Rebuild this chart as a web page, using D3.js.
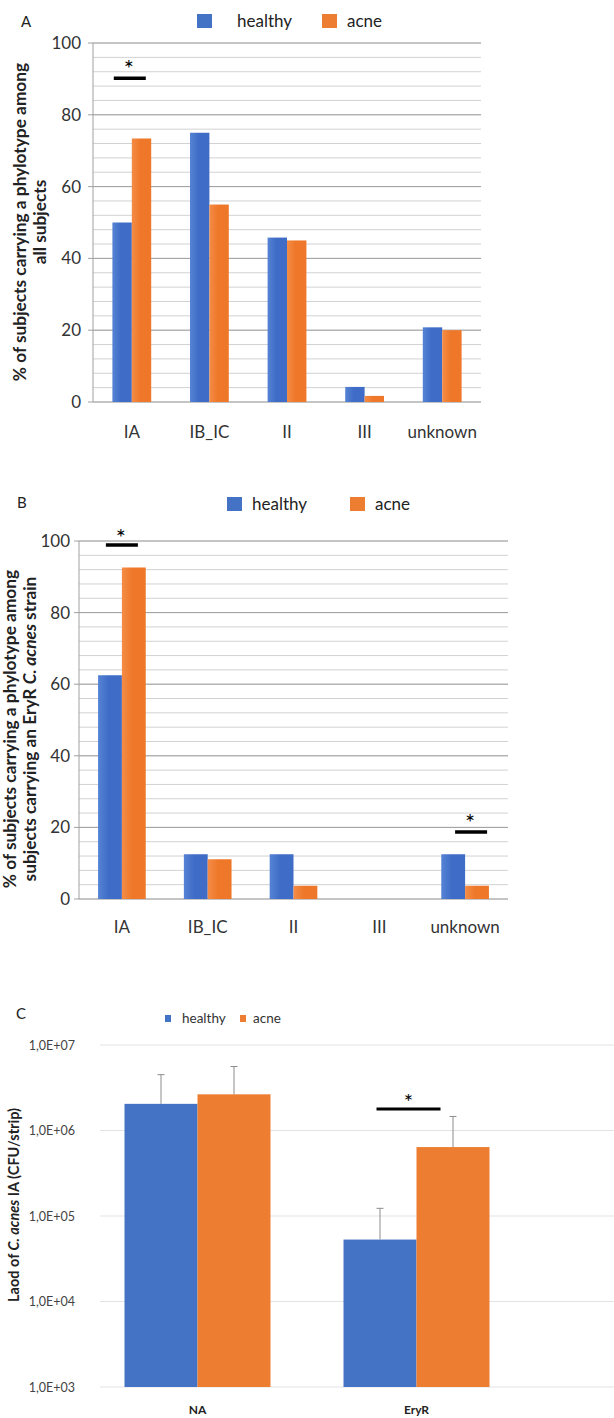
<!DOCTYPE html>
<html>
<head>
<meta charset="utf-8">
<script src="https://cdn.jsdelivr.net/npm/d3@7"></script>
<style>
  html, body { margin: 0; padding: 0; background: #fff; }
  svg { display: block; }
  text { font-family: Lato, "Open Sans", sans-serif; }
</style>
</head>
<body>
<svg id="chart" width="614" height="1418"></svg>
<script>
// ---------- data ----------
const categoriesAB = ["IA", "IB_IC", "II", "III", "unknown"];
const seriesNames = ["healthy", "acne"];
const healthyA = [50, 75, 45.8, 4.2, 20.8];
const acneA = [73.4, 55, 45, 1.7, 20];
const healthyB = [62.5, 12.5, 12.5, 0, 12.5];
const acneB = [92.6, 11.1, 3.7, 0, 3.7];
const yTicksAB = [0, 20, 40, 60, 80, 100];

const categoriesC = ["NA", "EryR"];
const healthyC = [2.05e6, 5.3e4];
const acneC = [2.65e6, 6.4e5];
const healthyCErrTop = [4.5e6, 1.23e5];
const acneCErrTop = [5.6e6, 1.46e6];
const yTicksC = [1e3, 1e4, 1e5, 1e6, 1e7];
const yTickLabelsC = ["1,0E+03", "1,0E+04", "1,0E+05", "1,0E+06", "1,0E+07"];

// significance markers (category, value level)
const sigA = [{ cat: "IA", v: 90.2 }];
const sigB = [{ cat: "IA", v: 98.9 }, { cat: "unknown", v: 18.7 }];
const sigC = [{ cat: "EryR", v: 1.79e6 }];

const colors = { healthy: "#4472C4", acne: "#ED7D31" };

const svg = d3.select("#chart");
svg.append("rect").attr("width", 614).attr("height", 1418).attr("fill", "#fff");

// gradients
const defs = svg.append("defs");
[["healthy", "#5683d4", "#3e6cc6"], ["acne", "#f48c46", "#ee7729"]].forEach(([n, c1, c2]) => {
  const gr = defs.append("linearGradient").attr("id", "grad-" + n).attr("x1", "0").attr("x2", "1").attr("y1", "0").attr("y2", "0");
  gr.append("stop").attr("offset", "0").attr("stop-color", c1);
  gr.append("stop").attr("offset", "0.45").attr("stop-color", c2);
  gr.append("stop").attr("offset", "1").attr("stop-color", c2);
});

// ---------- helper for panels A and B ----------
function panelAB(opt) {
  const g = svg.append("g");
  const x = d3.scaleBand().domain(categoriesAB).range([opt.x0, opt.x1]).paddingInner(0).paddingOuter(0);
  const y = d3.scaleLinear().domain([0, 100]).range([opt.y0, opt.y1]);
  const sub = d3.scaleBand().domain(seriesNames).range([0, x.bandwidth()]).paddingInner(0).paddingOuter(opt.outerPad);

  // minor gridlines
  const minor = d3.range(0, 101, 4);
  g.selectAll(".minor").data(minor).enter().append("line")
    .attr("x1", opt.x0).attr("x2", opt.x1)
    .attr("y1", d => y(d)).attr("y2", d => y(d))
    .attr("stroke", "#d2d2d2").attr("stroke-width", 1);
  // major gridlines
  g.selectAll(".major").data(yTicksAB).enter().append("line")
    .attr("x1", opt.x0 - 5).attr("x2", opt.x1)
    .attr("y1", d => y(d)).attr("y2", d => y(d))
    .attr("stroke", "#a0a0a0").attr("stroke-width", 1);
  // vertical axis line
  g.append("line").attr("x1", opt.x0).attr("x2", opt.x0)
    .attr("y1", y(0)).attr("y2", y(100)).attr("stroke", "#a0a0a0");

  // tick labels via axis
  const axis = d3.axisLeft(y).tickValues(yTicksAB).tickSize(0).tickPadding(opt.x0 - opt.labelRight);
  const ag = g.append("g").attr("transform", `translate(${opt.x0},0)`).call(axis);
  ag.select(".domain").remove();
  ag.selectAll("text").attr("font-size", 17).attr("fill", "#333").attr("font-family", "Lato, sans-serif");

  // bars
  const data = categoriesAB.map((c, i) => ({ c, healthy: opt.healthy[i], acne: opt.acne[i] }));
  const cg = g.selectAll(".cat").data(data).enter().append("g")
    .attr("transform", d => `translate(${x(d.c)},0)`);
  cg.selectAll("rect").data(d => seriesNames.map(s => ({ s, v: d[s] }))).enter().append("rect")
    .attr("x", d => sub(d.s)).attr("width", sub.bandwidth())
    .attr("y", d => y(d.v)).attr("height", d => y(0) - y(d.v))
    .attr("fill", d => `url(#grad-${d.s})`);

  // category labels
  const xa = d3.axisBottom(x).tickSize(0).tickPadding(0);
  const xg = g.append("g").attr("transform", `translate(0,${opt.catY})`).call(xa);
  xg.select(".domain").remove();
  xg.selectAll("text").attr("font-size", 17).attr("fill", "#333").attr("dy", "0.35em").attr("font-family", "Lato, sans-serif");

  // significance
  opt.sig.forEach((s, i) => {
    const cx = x(s.cat) + x.bandwidth() / 2 + (opt.sigShift[i] || 0);
    const yy = y(s.v);
    g.append("line").attr("x1", cx - 16).attr("x2", cx + 16).attr("y1", yy).attr("y2", yy)
      .attr("stroke", "#000").attr("stroke-width", 3.5);
    g.append("text").attr("x", cx - 1).attr("y", yy - opt.starLift[i]).attr("text-anchor", "middle")
      .attr("font-size", 24).attr("fill", "#000").text("*");
  });

  // legend
  const lg = g.append("g");
  seriesNames.forEach((s, i) => {
    lg.append("rect").attr("x", opt.legX[i]).attr("y", opt.legY - 13).attr("width", 15).attr("height", 14)
      .attr("fill", colors[s]);
    lg.append("text").attr("x", opt.legX[i] + 25 + (i === 0 ? opt.legGap : 0)).attr("y", opt.legY)
      .attr("font-size", 17).attr("fill", "#222").text(s);
  });

  // panel letter
  g.append("text").attr("x", opt.letterX).attr("y", opt.letterY).attr("font-size", 15).attr("fill", "#222").text(opt.letter);

  // y title
  const t = g.append("text").attr("transform", `translate(${opt.titleX},${opt.titleY}) rotate(-90)`)
    .attr("text-anchor", "middle").attr("font-size", 17.3).attr("font-weight", "bold").attr("fill", "#222");
  opt.titleLines.forEach((line, li) => {
    const ts = t.append("tspan").attr("x", 0).attr("dy", li === 0 ? 0 : 19.5);
    line.forEach(seg => {
      ts.append("tspan").attr("font-style", seg.i ? "italic" : null).text(seg.t);
    });
  });
}

panelAB({
  x0: 93, x1: 481, y0: 402, y1: 43, labelRight: 81, outerPad: 1.0,
  healthy: healthyA, acne: acneA, catY: 432, sig: sigA, sigShift: [-2], starLift: [1],
  legX: [197, 322], legY: 27, legGap: 15, letter: "A", letterX: 21, letterY: 27,
  titleX: 26, titleY: 222,
  titleLines: [[{ t: "% of subjects carrying a phylotype among" }], [{ t: "all subjects" }]]
});

panelAB({
  x0: 79, x1: 508, y0: 899, y1: 541, labelRight: 70, outerPad: 0.8,
  healthy: healthyB, acne: acneB, catY: 927, sig: sigB, sigShift: [0, 6], starLift: [-1, 1],
  legX: [227, 350], legY: 510, legGap: 0, letter: "B", letterX: 17, letterY: 508,
  titleX: 16, titleY: 729,
  titleLines: [[{ t: "% of subjects carrying a phylotype among" }],
               [{ t: "subjects carrying an EryR " }, { t: "C. acnes", i: true }, { t: " strain" }]]
});

// ---------- panel C ----------
(function () {
  const g = svg.append("g");
  const x0 = 88, x1 = 526;
  const x = d3.scaleBand().domain(categoriesC).range([x0, x1]).paddingInner(0).paddingOuter(0);
  const sub = d3.scaleBand().domain(seriesNames).range([0, x.bandwidth()]).paddingOuter(0.5);
  const y = d3.scaleLog().domain([1e3, 1e7]).range([1387, 1045]);

  g.selectAll(".grid").data(yTicksC).enter().append("line")
    .attr("x1", 100).attr("x2", 614)
    .attr("y1", d => y(d)).attr("y2", d => y(d))
    .attr("stroke", "#e3e3e3").attr("stroke-width", 1.2);

  const axis = d3.axisLeft(y).tickValues(yTicksC).tickFormat((d, i) => yTickLabelsC[i]).tickSize(0).tickPadding(0);
  const ag = g.append("g").attr("transform", "translate(75,0)").call(axis);
  ag.select(".domain").remove();
  ag.selectAll("text").attr("font-size", 12.5).attr("fill", "#444").attr("font-family", "Lato, sans-serif");

  const data = categoriesC.map((c, i) => ({ c, vals: [
    { s: "healthy", v: healthyC[i], e: healthyCErrTop[i] },
    { s: "acne", v: acneC[i], e: acneCErrTop[i] }] }));
  const cg = g.selectAll(".cat").data(data).enter().append("g")
    .attr("transform", d => `translate(${x(d.c)},0)`);
  cg.selectAll("rect").data(d => d.vals).enter().append("rect")
    .attr("x", d => sub(d.s)).attr("width", sub.bandwidth())
    .attr("y", d => y(d.v)).attr("height", d => y(1e3) - y(d.v))
    .attr("fill", d => colors[d.s]);
  // error bars
  cg.selectAll(".err").data(d => d.vals).enter().append("line")
    .attr("x1", d => sub(d.s) + sub.bandwidth() / 2).attr("x2", d => sub(d.s) + sub.bandwidth() / 2)
    .attr("y1", d => y(d.v)).attr("y2", d => y(d.e))
    .attr("stroke", "#8c8c8c").attr("stroke-width", 1);
  cg.selectAll(".cap").data(d => d.vals).enter().append("line")
    .attr("x1", d => sub(d.s) + sub.bandwidth() / 2 - 3.5).attr("x2", d => sub(d.s) + sub.bandwidth() / 2 + 3.5)
    .attr("y1", d => y(d.e)).attr("y2", d => y(d.e))
    .attr("stroke", "#8c8c8c").attr("stroke-width", 1);

  const xa = d3.axisBottom(x).tickSize(0).tickPadding(0);
  const xg = g.append("g").attr("transform", "translate(0,1410)").call(xa);
  xg.select(".domain").remove();
  xg.selectAll("text").attr("font-size", 12).attr("font-weight", "bold").attr("fill", "#222")
    .attr("dy", "0.35em").attr("font-family", "Lato, sans-serif");

  sigC.forEach(s => {
    const cx = x(s.cat) + x.bandwidth() / 2 - 8;
    const yy = y(s.v);
    g.append("line").attr("x1", cx - 32).attr("x2", cx + 32).attr("y1", yy).attr("y2", yy)
      .attr("stroke", "#000").attr("stroke-width", 3);
    g.append("text").attr("x", cx).attr("y", yy + 1).attr("text-anchor", "middle")
      .attr("font-size", 22).attr("fill", "#000").text("*");
  });

  // legend
  const legX = [165, 240];
  seriesNames.forEach((s, i) => {
    g.append("rect").attr("x", legX[i]).attr("y", 1015).attr("width", 6).attr("height", 7).attr("fill", colors[s]);
    g.append("text").attr("x", legX[i] + 17 - (i === 1 ? 4 : 0)).attr("y", 1023).attr("font-size", 13.5).attr("fill", "#333").text(s);
  });

  g.append("text").attr("x", 16).attr("y", 1019).attr("font-size", 15).attr("fill", "#222").text("C");

  const t = g.append("text").attr("transform", "translate(19,1205) rotate(-90)")
    .attr("text-anchor", "middle").attr("font-size", 14.5).attr("font-weight", "bold").attr("fill", "#222");
  t.append("tspan").text("Laod of ");
  t.append("tspan").attr("font-style", "italic").text("C. acnes");
  t.append("tspan").text(" IA (CFU/strip)");
})();
</script>
</body>
</html>
